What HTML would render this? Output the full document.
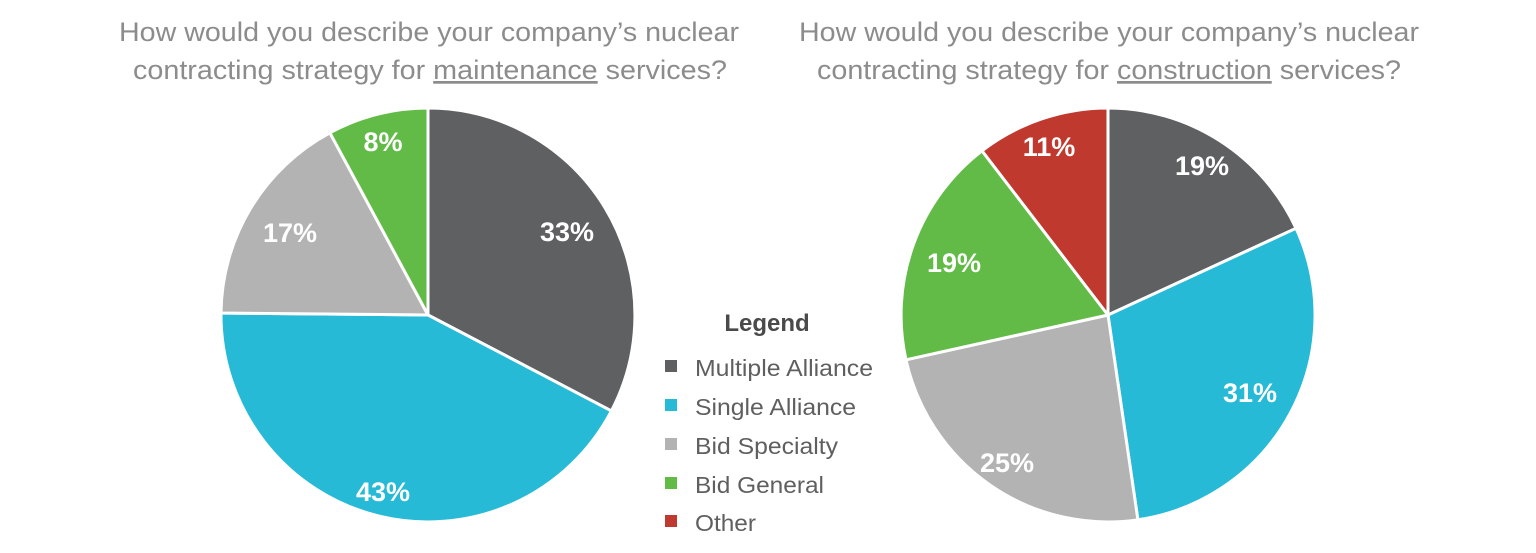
<!DOCTYPE html>
<html><head><meta charset="utf-8"><style>
html,body{margin:0;padding:0;background:#fff;}
svg{display:block;}
text{font-family:"Liberation Sans",Arial,sans-serif;}
</style></head><body>
<svg width="1536" height="553" viewBox="0 0 1536 553" xmlns="http://www.w3.org/2000/svg">
<g fill="#8c8c8c" font-size="27">
<text x="119" y="41" textLength="620" lengthAdjust="spacingAndGlyphs">How would you describe your company’s nuclear</text>
<text x="133" y="79" textLength="594" lengthAdjust="spacingAndGlyphs">contracting strategy for <tspan text-decoration="underline">maintenance</tspan> services?</text>
<text x="799" y="41" textLength="620" lengthAdjust="spacingAndGlyphs">How would you describe your company’s nuclear</text>
<text x="817" y="79" textLength="584" lengthAdjust="spacingAndGlyphs">contracting strategy for <tspan text-decoration="underline">construction</tspan> services?</text>
</g>
<g stroke="#fff" stroke-width="3" stroke-linejoin="round">
<path d="M428,315 L428,108 A207,207 0 0 1 611.4,410.9 Z" fill="#5f6062"/>
<path d="M428,315 L611.4,410.9 A207,207 0 0 1 221,313 Z" fill="#26bad6"/>
<path d="M428,315 L221,313 A207,207 0 0 1 329.9,132.8 Z" fill="#b3b3b3"/>
<path d="M428,315 L329.9,132.8 A207,207 0 0 1 428,108 Z" fill="#62bb47"/>
<path d="M1108,315 L1108,108 A207,207 0 0 1 1296,228.3 Z" fill="#5f6062"/>
<path d="M1108,315 L1296,228.3 A207,207 0 0 1 1137.9,519.8 Z" fill="#26bad6"/>
<path d="M1108,315 L1137.9,519.8 A207,207 0 0 1 906,359.8 Z" fill="#b3b3b3"/>
<path d="M1108,315 L906,359.8 A207,207 0 0 1 982,150.8 Z" fill="#62bb47"/>
<path d="M1108,315 L982,150.8 A207,207 0 0 1 1108,108 Z" fill="#c0392f"/>
</g>
<g fill="#fff" font-size="27" font-weight="bold" text-anchor="middle">
<text x="567" y="241">33%</text>
<text x="383" y="501">43%</text>
<text x="290" y="242">17%</text>
<text x="383" y="151">8%</text>
<text x="1202" y="175">19%</text>
<text x="1250" y="402">31%</text>
<text x="1007" y="472">25%</text>
<text x="954" y="272">19%</text>
<text x="1049" y="156">11%</text>
</g>
<text x="767" y="331" font-size="24" font-weight="bold" fill="#4a4a4a" text-anchor="middle">Legend</text>
<g font-size="23" fill="#5f5f5f">
<rect x="665" y="360" width="12" height="12" fill="#5f6062"/><text x="695" y="376" textLength="178" lengthAdjust="spacingAndGlyphs">Multiple Alliance</text>
<rect x="665" y="399" width="12" height="12" fill="#26bad6"/><text x="695" y="415" textLength="161" lengthAdjust="spacingAndGlyphs">Single Alliance</text>
<rect x="665" y="438" width="12" height="12" fill="#b3b3b3"/><text x="695" y="454" textLength="143" lengthAdjust="spacingAndGlyphs">Bid Specialty</text>
<rect x="665" y="477" width="12" height="12" fill="#62bb47"/><text x="695" y="493" textLength="129" lengthAdjust="spacingAndGlyphs">Bid General</text>
<rect x="665" y="515" width="12" height="12" fill="#c0392f"/><text x="695" y="531" textLength="61" lengthAdjust="spacingAndGlyphs">Other</text>
</g>
</svg>
</body></html>
